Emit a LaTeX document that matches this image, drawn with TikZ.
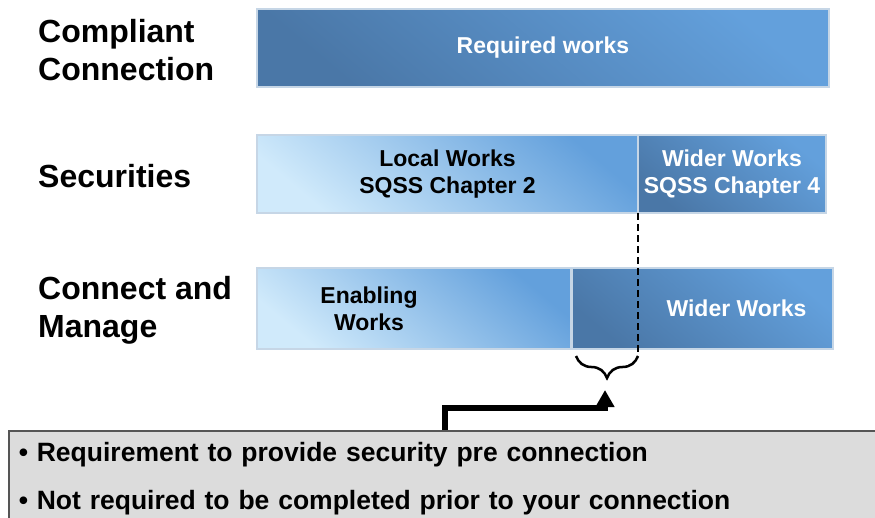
\documentclass[tikz,border=0pt]{standalone}
\usepackage{fontspec}
\setmainfont{Liberation Sans}
\usepackage{xcolor}
\usepackage{tikz}
\usetikzlibrary{positioning,arrows.meta,decorations.pathreplacing}
\definecolor{barlight}{HTML}{D0EAFB}
\definecolor{barmid}{HTML}{63A0DC}
\definecolor{bardark}{HTML}{4A77A7}
\definecolor{baredge}{HTML}{C6D6E6}
\definecolor{notegray}{HTML}{DCDCDC}
\definecolor{noteedge}{HTML}{555555}

\begin{document}
\begin{tikzpicture}[x=1pt, y=-1pt,
    every node/.style={font=\bfseries},
    rowlabel/.style={anchor=west, align=left, inner sep=0pt, font=\fontsize{32}{38}\selectfont\bfseries},
    bartext/.style={align=center, font=\fontsize{23}{27}\selectfont\bfseries},
    darkbar/.style={bartext, draw=baredge, line width=2.5pt, outer sep=0pt, inner sep=0pt, anchor=north west,
        top color=barmid, bottom color=bardark, shading angle=-40, text=white},
    lightbar/.style={darkbar, bottom color=barlight, shading angle=-40, text=black}]
    \useasboundingbox (0,0) rectangle (875,517);

    % Row labels
    \node[rowlabel] (lblcomp) at (38,50) {Compliant\\Connection};
    \node[rowlabel] (lblsec) at (38,176) {Securities};
    \node[rowlabel] (lblcm) at (38,310) {Connect and\\Manage};

    % Compliant connection
    \node[darkbar, minimum width=572, minimum height=78] (req) at (257,9) {Required works};

    % Securities
    \node[lightbar, minimum width=381, minimum height=78] (local) at (257,135) {Local Works\\SQSS Chapter 2};
    \node[darkbar, minimum width=188, minimum height=78, right=0pt of local] (wider) {Wider Works\\SQSS Chapter 4};

    % Connect and manage
    \node[lightbar, minimum width=314, minimum height=81,
        label={[bartext, xshift=-45]center:Enabling\\Works}] (enab) at (257,268) {};
    \node[darkbar, minimum width=261, minimum height=81, right=1pt of enab,
        label={[bartext, text=white, xshift=34]center:Wider Works}] (widecm) {};

    % Dashed split and brace
    \coordinate (bracer) at (638,356);
    \coordinate (bracel) at (576,356);
    \draw[line width=1.5pt, dash pattern=on 7pt off 4pt] (wider.south west) -- (bracer);
    \draw[decorate, decoration={brace, amplitude=22pt}, line width=2.5pt] (bracer) -- (bracel);

    % Note box
    \node[draw=noteedge, fill=notegray, line width=1.5pt, anchor=north west, text width=860, inner xsep=10pt, inner ysep=12pt,
        align=left, font=\fontsize{26.5}{48}\selectfont\bfseries] (note) at (8,430)
        {\textbullet\ Requirement to provide security pre connection\\
         \textbullet\ Not required to be completed prior to your connection};

    % Pointer from note to brace
    \coordinate (stem) at (445,430);
    \coordinate (bend) at (605,408);
    \coordinate (bracetip) at (605,390);
    \draw[line width=6pt, -{Triangle[width=18pt,length=17pt]}] (stem) |- (bend) -- (bracetip);
\end{tikzpicture}
\end{document}
